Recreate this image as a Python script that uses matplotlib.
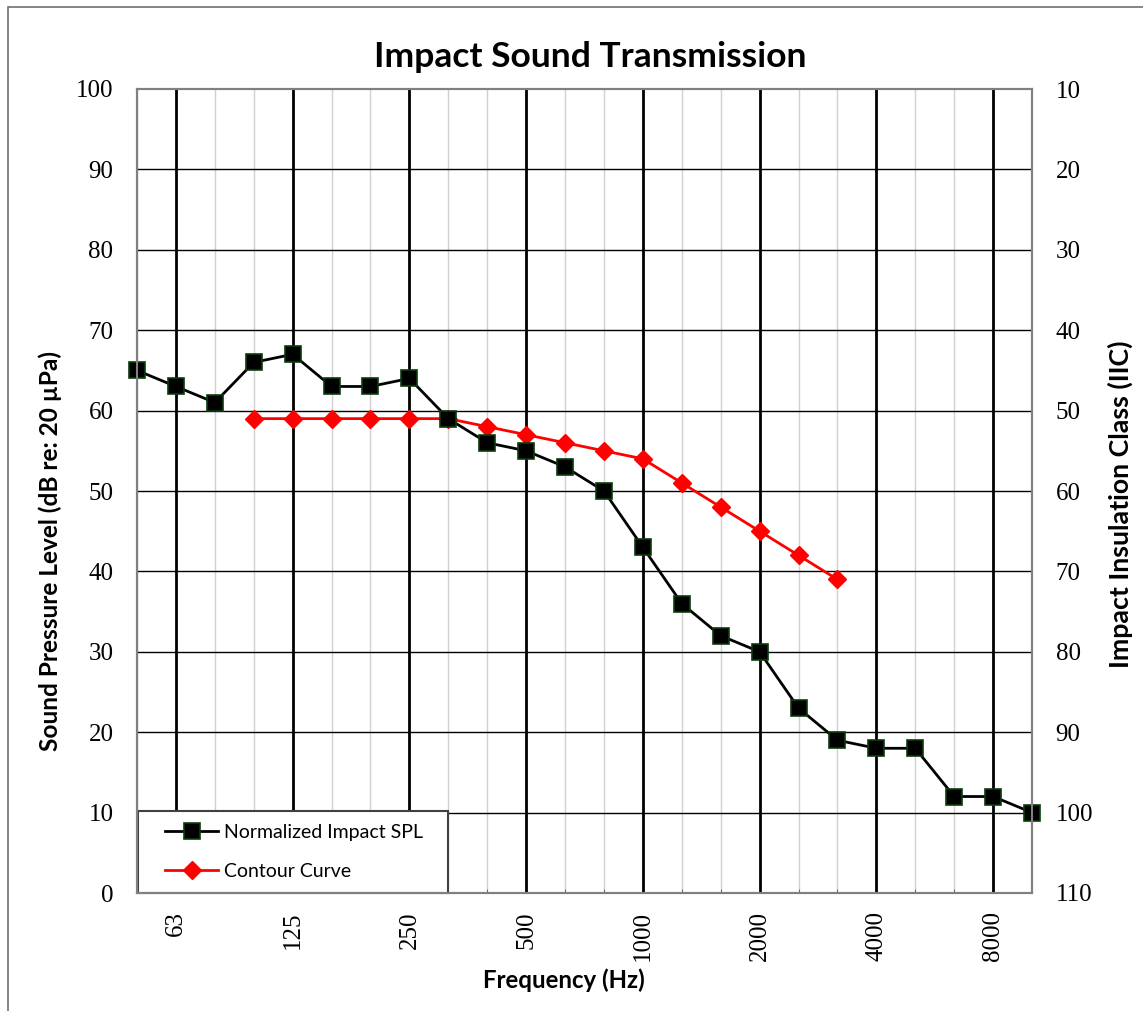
import matplotlib.pyplot as plt
from matplotlib.patches import Rectangle

# -----------------------------
# DATA
# -----------------------------
bands = [50, 63, 80, 100, 125, 160, 200, 250, 315, 400, 500, 630, 800,
         1000, 1250, 1600, 2000, 2500, 3150, 4000, 5000, 6300, 8000, 10000]
spl = [65, 63, 61, 66, 67, 63, 63, 64, 59, 56, 55, 53, 50,
       43, 36, 32, 30, 23, 19, 18, 18, 12, 12, 10]
contour_bands = [100, 125, 160, 200, 250, 315, 400, 500, 630, 800,
                 1000, 1250, 1600, 2000, 2500, 3150]
contour = [59, 59, 59, 59, 59, 59, 58, 57, 56, 55, 54, 51, 48, 45, 42, 39]
octave_labels = [63, 125, 250, 500, 1000, 2000, 4000, 8000]

SERIF = "Liberation Serif"
SANS = "Lato"
TICK_FS = 18

# -----------------------------
# PLOT
# -----------------------------
W, H = 1143, 1011
fig = plt.figure(figsize=(W / 100, H / 100), dpi=100)
ax = fig.add_axes([137 / W, 1 - 893 / H, (1032 - 137) / W, (893 - 89) / H])

x_all = list(range(len(bands)))
x_contour = [bands.index(b) for b in contour_bands]
x_oct = [bands.index(b) for b in octave_labels]

# grid
for i in x_all:
    if i in x_oct:
        ax.axvline(i, color="black", lw=2.0, zorder=1)
    else:
        ax.axvline(i, color="#d0d0d0", lw=1.0, zorder=0.5)
for y in range(10, 100, 10):
    ax.axhline(y, color="black", lw=1.0, zorder=1)

ax.plot(x_all, spl, color="black", lw=2, marker="s", markersize=11,
        markerfacecolor="black", markeredgecolor="#0b3d0b", markeredgewidth=1.2,
        label="Normalized Impact SPL", zorder=4, clip_on=False)
ax.plot(x_contour, contour, color="red", lw=2, marker="D", markersize=9,
        markerfacecolor="red", markeredgecolor="red",
        label="Contour Curve", zorder=3, clip_on=False)

ax.set_xlim(0, len(bands) - 1)
ax.set_ylim(0, 100)
ax.set_yticks(range(0, 101, 10))
ax.set_xticks(x_all, minor=True)
ax.set_xticks(x_oct)
ax.set_xticklabels([str(v) for v in octave_labels], rotation=90,
                   fontfamily=SERIF, fontsize=TICK_FS)
ax.tick_params(axis="x", which="major", length=0, pad=13)
ax.tick_params(axis="x", which="minor", length=3, direction="in", color="#555555")
ax.tick_params(axis="y", length=0, pad=17)
for lbl in ax.get_yticklabels():
    lbl.set_fontfamily(SERIF)
    lbl.set_fontsize(TICK_FS)

for sp in ax.spines.values():
    sp.set_color("#808080")
    sp.set_linewidth(1.5)

ax2 = ax.twinx()
ax2.set_ylim(110, 10)
ax2.set_yticks(range(10, 111, 10))
ax2.tick_params(axis="y", length=0, pad=17)
for lbl in ax2.get_yticklabels():
    lbl.set_fontfamily(SERIF)
    lbl.set_fontsize(TICK_FS)
for sp in ax2.spines.values():
    sp.set_color("#808080")
    sp.set_linewidth(1.5)

ax.set_title("Impact Sound Transmission", fontfamily=SANS, fontweight="bold",
             fontsize=25.5, pad=16, x=0.5 + 6 / 895)
ax.set_xlabel("Frequency (Hz)", fontfamily=SANS, fontweight="bold", fontsize=17.3)
ax.xaxis.set_label_coords(0.477, -0.094)
ax.set_ylabel("Sound Pressure Level (dB re: 20 \u00b5Pa)", fontfamily=SANS,
              fontweight="bold", fontsize=17.6)
ax.yaxis.set_label_coords(-0.0834, 0.425)
ax2.set_ylabel("Impact Insulation Class (IIC)", fontfamily=SANS,
               fontweight="bold", fontsize=19.3)
ax2.yaxis.set_label_coords(1.085, 0.484)

# legend box and entries
ax.add_patch(Rectangle((1 / 895, 0), 310 / 895, 82 / 804, transform=ax.transAxes,
                       facecolor="white", edgecolor="#404040", lw=1.5,
                       zorder=9, clip_on=False))
leg = ax.legend(loc="center left", bbox_to_anchor=(28 / 895, 41 / 804),
                borderaxespad=0, borderpad=0, frameon=False,
                prop={"family": SANS, "size": 14},
                handlelength=2.75, labelspacing=1.15, handletextpad=0.3)
leg.set_zorder(10)

# outer border (only top and left edges fall inside the image)
fig.patches.append(Rectangle((8 / W, -0.02), 1.05, 1.02 - 6.5 / H,
                             transform=fig.transFigure, fill=False,
                             edgecolor="#707070", lw=1.2))

fig.savefig("out.png", dpi=100)
